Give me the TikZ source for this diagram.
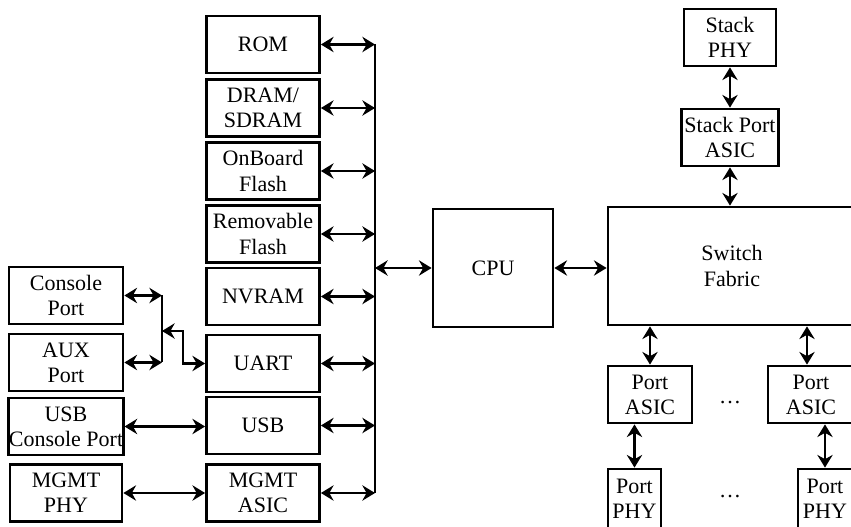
\documentclass[tikz,border=0pt]{standalone}
\usepackage{fontspec}
\setmainfont{Liberation Serif}
\usetikzlibrary{arrows.meta,calc}
\begin{document}
\begin{tikzpicture}[x=0.75pt,y=-0.75pt,
  box/.style={draw, line width=2.1pt, inner sep=0pt, align=center, font=\fontsize{16.5}{18.8}\selectfont},
  sz/.style 2 args={minimum width=#1*0.75pt, minimum height=#2*0.75pt},
  tip/.tip={Stealth[length=9.5pt,width=11.5pt,inset=3.2pt]},
  link/.style={line width=2.2pt, tip-tip},
  wire/.style={line width=2.2pt},
  dots/.style={inner sep=0pt, font=\fontsize{16.5}{18.8}\selectfont}]
\useasboundingbox (0,0) rectangle (851,527);
\clip (0,0) rectangle (851,527);
% memory / peripheral column
\node[box, sz={113}{57}] (rom)   at (263,44.5) {ROM};
\node[box, sz={113}{57}] (dram)  at (263,108)  {DRAM/\\SDRAM};
\node[box, sz={113}{57}] (obf)   at (263,171)  {OnBoard\\Flash};
\node[box, sz={113}{57}] (rmf)   at (263,234)  {Removable\\Flash};
\node[box, sz={113}{57}] (nvram) at (263,296.5){NVRAM};
\node[box, sz={113}{57}] (uart)  at (263,363.5){UART};
\node[box, sz={113}{57}] (usb)   at (263,425.5){USB};
\node[box, sz={113}{57}] (masic) at (263,493)  {MGMT\\ASIC};
% left column
\node[box, sz={114}{57}] (con)  at (66,295.5) {Console\\Port};
\node[box, sz={114}{57}] (aux)  at (66,362.5) {AUX\\Port};
\node[box, sz={114}{57}] (usbc) at (66,426.5) {USB\\Console Port};
\node[box, sz={112}{57}] (mphy) at (66,493)   {MGMT\\PHY};
% CPU and switch fabric
\node[box, sz={120}{118}] (cpu) at (493,268) {CPU};
\node[box, sz={248}{118}] (sf)  at (732,266) {Switch\\Fabric};
\node[box, sz={92}{57}]  (sphy) at (730,37.5)  {Stack\\PHY};
\node[box, sz={97}{57}]  (spa)  at (730,137.5) {Stack Port\\ASIC};
\node[box, sz={84}{57}]  (pal)  at (650,394.5) {Port\\ASIC};
\node[box, sz={86}{57}]  (par)  at (811,394.5) {Port\\ASIC};
\node[box, sz={53}{59}]  (pyl)  at (634.5,498.5) {Port\\PHY};
\node[box, sz={54}{59}]  (pyr)  at (825,498.5) {Port\\PHY};
\node[dots] (d1) at (730,403) {…};
\node[dots] (d2) at (730,497) {…};
% bus
\coordinate (bus) at (375,0);
\draw[wire] (rom.east -| bus) -- (masic.east -| bus);
\foreach \n in {rom,dram,obf,rmf,nvram,uart,usb,masic}
  \draw[link] (\n.east) -- (\n.east -| bus);
\draw[link] (cpu.west -| bus) -- (cpu.west);
\draw[link] (cpu.east) -- (cpu.east -| sf.west);
% stack
\draw[link] (sphy.south) -- (sphy.south |- spa.north);
\draw[link] (spa.south) -- (spa.south |- sf.north);
% ports
\draw[link] (pal.north |- sf.south) -- (pal.north);
\draw[link] ([xshift=-3pt]par.north |- sf.south) -- ([xshift=-3pt]par.north);
\draw[link] (pal.south -| pyl.north) -- (pyl.north);
\draw[link] (par.south -| pyr.north) -- (pyr.north);
% console / aux junction
\coordinate (j) at (162,0);
\coordinate (jm) at (162,331);
\coordinate (kt) at (183,331);
\draw[link] (con.east) -- (con.east -| j);
\draw[link] (aux.east) -- (aux.east -| j);
\draw[wire] (con.east -| j) -- (aux.east -| j);
\draw[link] (jm) -- (kt) |- (uart.west);
\draw[link] (usbc.east) -- (usbc.east -| usb.west);
\draw[link] (mphy.east) -- (mphy.east -| masic.west);
\end{tikzpicture}
\end{document}
